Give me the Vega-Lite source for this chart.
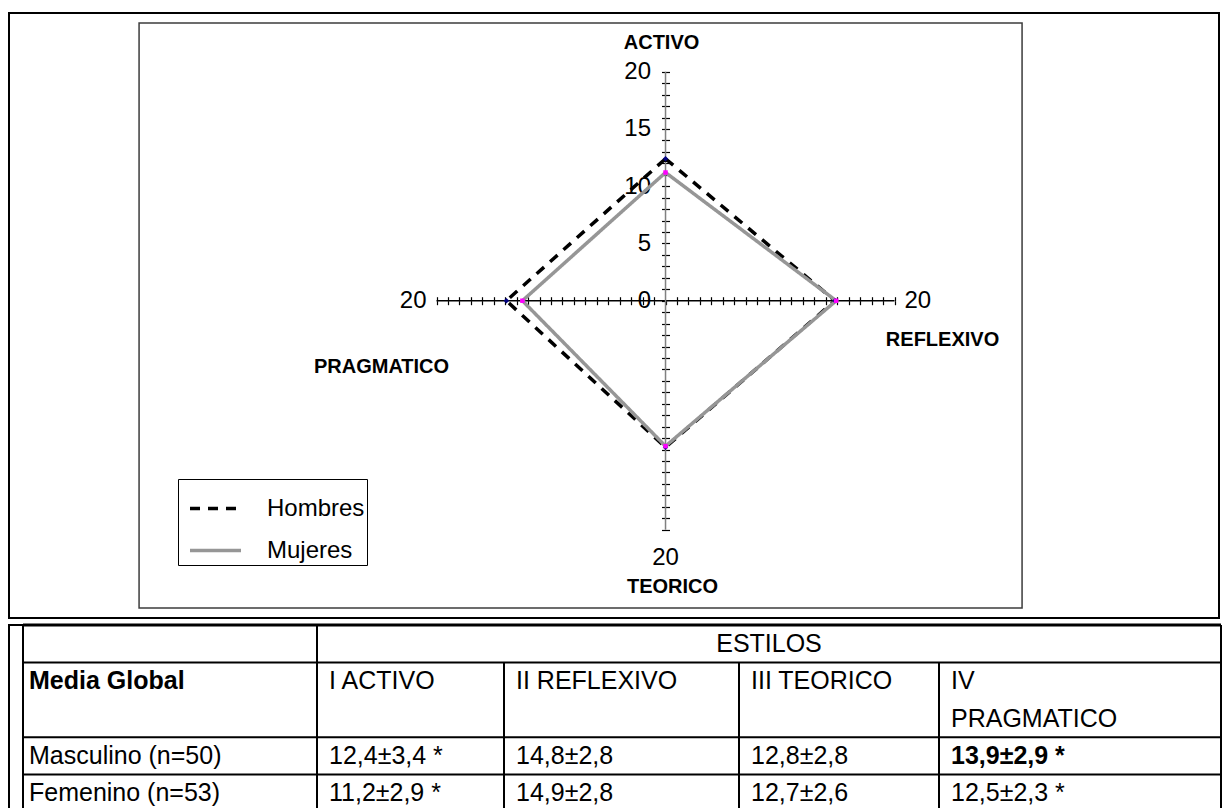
{
  "$schema": "https://vega.github.io/schema/vega-lite/v6.json",
  "padding": {"left": 8, "top": 12, "right": 0, "bottom": 0},
  "background": "white",
  "config": {"view": {"stroke": null}, "font": "Liberation Sans", "text": {"color": "black"}},
  "datasets": {
    "radar": [
      {"grupo": "Hombres", "estilo": "ACTIVO", "valor": 12.4, "x": 0, "y": 12.4, "orden": 1},
      {"grupo": "Hombres", "estilo": "REFLEXIVO", "valor": 14.8, "x": 14.8, "y": 0, "orden": 2},
      {"grupo": "Hombres", "estilo": "TEORICO", "valor": 12.8, "x": 0, "y": -12.8, "orden": 3},
      {"grupo": "Hombres", "estilo": "PRAGMATICO", "valor": 13.9, "x": -13.9, "y": 0, "orden": 4},
      {"grupo": "Hombres", "estilo": "ACTIVO", "valor": 12.4, "x": 0, "y": 12.4, "orden": 5},
      {"grupo": "Mujeres", "estilo": "ACTIVO", "valor": 11.2, "x": 0, "y": 11.2, "orden": 1},
      {"grupo": "Mujeres", "estilo": "REFLEXIVO", "valor": 14.9, "x": 14.9, "y": 0, "orden": 2},
      {"grupo": "Mujeres", "estilo": "TEORICO", "valor": 12.7, "x": 0, "y": -12.7, "orden": 3},
      {"grupo": "Mujeres", "estilo": "PRAGMATICO", "valor": 12.5, "x": -12.5, "y": 0, "orden": 4},
      {"grupo": "Mujeres", "estilo": "ACTIVO", "valor": 11.2, "x": 0, "y": 11.2, "orden": 5}
    ],
    "ejes": [
      {"estilo": "ACTIVO", "x": 0, "y": 20, "maximo": 20},
      {"estilo": "REFLEXIVO", "x": 20, "y": 0, "maximo": 20},
      {"estilo": "TEORICO", "x": 0, "y": -20, "maximo": 20},
      {"estilo": "PRAGMATICO", "x": -20, "y": 0, "maximo": 20}
    ],
    "tabla": [
      {"columna": "Media Global", "fila": "Encabezado", "texto": "Media Global"},
      {"columna": "Media Global", "fila": "Masculino (n=50)", "texto": "Masculino (n=50)"},
      {"columna": "Media Global", "fila": "Femenino (n=53)", "texto": "Femenino (n=53)"},
      {"columna": "I ACTIVO", "fila": "Encabezado", "texto": "I ACTIVO"},
      {"columna": "I ACTIVO", "fila": "Masculino (n=50)", "texto": "12,4±3,4 *"},
      {"columna": "I ACTIVO", "fila": "Femenino (n=53)", "texto": "11,2±2,9 *"},
      {"columna": "II REFLEXIVO", "fila": "Encabezado", "texto": "II REFLEXIVO"},
      {"columna": "II REFLEXIVO", "fila": "Masculino (n=50)", "texto": "14,8±2,8"},
      {"columna": "II REFLEXIVO", "fila": "Femenino (n=53)", "texto": "14,9±2,8"},
      {"columna": "III TEORICO", "fila": "Encabezado", "texto": "III TEORICO"},
      {"columna": "III TEORICO", "fila": "Masculino (n=50)", "texto": "12,8±2,8"},
      {"columna": "III TEORICO", "fila": "Femenino (n=53)", "texto": "12,7±2,6"},
      {"columna": "IV PRAGMATICO", "fila": "Encabezado", "texto": "IV"},
      {"columna": "IV PRAGMATICO", "fila": "Encabezado (2)", "texto": "PRAGMATICO"},
      {"columna": "IV PRAGMATICO", "fila": "Masculino (n=50)", "texto": "13,9±2,9 *"},
      {"columna": "IV PRAGMATICO", "fila": "Femenino (n=53)", "texto": "12,5±2,3 *"}
    ]
  },
  "spacing": 3,
  "vconcat": [
    {
      "width": 1210,
      "height": 605,
      "view": {"stroke": "black", "strokeWidth": 2},
      "resolve": {"axis": {"x": "independent", "y": "independent"}},
      "layer": [
        {
          "data": {"values": [{}]},
          "mark": {"type": "rect", "fill": null, "stroke": "#3c3c3c", "strokeWidth": 1.5},
          "encoding": {
            "x": {"datum": -45.98, "type": "quantitative", "scale": {"domain": [-57.34, 48.34], "nice": false, "zero": false}, "axis": null},
            "x2": {"datum": 31.14},
            "y": {"datum": 24.25, "type": "quantitative", "scale": {"domain": [-27.71, 25.13], "nice": false, "zero": false}, "axis": null},
            "y2": {"datum": -26.84}
          }
        },
        {
          "data": {"values": [{}]},
          "mark": {"type": "rule", "color": "black", "strokeWidth": 1.5},
          "encoding": {
            "x": {"datum": -20, "type": "quantitative", "scale": {"domain": [-57.34, 48.34], "nice": false, "zero": false},
              "axis": {"orient": "bottom", "offset": -317.3, "values": [-20,-19,-18,-17,-16,-15,-14,-13,-12,-11,-10,-9,-8,-7,-6,-5,-4,-3,-2,-1,0,1,2,3,4,5,6,7,8,9,10,11,12,13,14,15,16,17,18,19,20], "labels": false, "domain": false, "grid": false, "tickSize": 4, "tickColor": "black", "tickWidth": 1.2, "title": null}},
            "x2": {"datum": 20},
            "y": {"datum": 0, "type": "quantitative", "scale": {"domain": [-27.71, 25.13], "nice": false, "zero": false},
              "axis": {"orient": "left", "offset": -656.5, "values": [-20,-19,-18,-17,-16,-15,-14,-13,-12,-11,-10,-9,-8,-7,-6,-5,-4,-3,-2,-1,0,1,2,3,4,5,6,7,8,9,10,11,12,13,14,15,16,17,18,19,20], "labelExpr": "datum.value >= 0 && datum.value % 5 == 0 ? datum.label : ''", "labelOverlap": false, "labelFlush": false, "labelBound": false, "labelFontSize": 24, "labelFont": "Liberation Sans", "labelColor": "black", "labelPadding": 11, "domain": false, "grid": false, "tickSize": 4, "tickColor": "black", "tickWidth": 1.2, "title": null}}
          }
        },
        {
          "data": {"values": [{}]},
          "mark": {"type": "rule", "color": "#808080", "strokeWidth": 1.5},
          "encoding": {
            "x": {"datum": 0, "type": "quantitative", "scale": {"domain": [-57.34, 48.34], "nice": false, "zero": false},
              "axis": {"orient": "top", "offset": -287.7, "values": [-20,-19,-18,-17,-16,-15,-14,-13,-12,-11,-10,-9,-8,-7,-6,-5,-4,-3,-2,-1,1,2,3,4,5,6,7,8,9,10,11,12,13,14,15,16,17,18,19,20], "labels": false, "domain": false, "grid": false, "tickSize": 4, "tickColor": "black", "tickWidth": 1.2, "title": null}},
            "y": {"datum": -20, "type": "quantitative", "scale": {"domain": [-27.71, 25.13], "nice": false, "zero": false},
              "axis": {"orient": "right", "offset": -553.5, "values": [-20,-19,-18,-17,-16,-15,-14,-13,-12,-11,-10,-9,-8,-7,-6,-5,-4,-3,-2,-1,1,2,3,4,5,6,7,8,9,10,11,12,13,14,15,16,17,18,19,20], "labels": false, "domain": false, "grid": false, "tickSize": 4, "tickColor": "black", "tickWidth": 1.2, "title": null}},
            "y2": {"datum": 20}
          }
        },
        {
          "data": {"name": "radar"},
          "mark": {"type": "line", "strokeWidth": 3.5, "strokeCap": "butt", "strokeJoin": "miter"},
          "encoding": {
            "x": {"field": "x", "type": "quantitative", "scale": {"domain": [-57.34, 48.34], "nice": false, "zero": false}, "axis": null},
            "y": {"field": "y", "type": "quantitative", "scale": {"domain": [-27.71, 25.13], "nice": false, "zero": false}, "axis": null},
            "order": {"field": "orden", "type": "quantitative"},
            "color": {"field": "grupo", "type": "nominal", "scale": {"domain": ["Hombres", "Mujeres"], "range": ["black", "#969696"]},
              "legend": {"title": null, "orient": "none", "legendX": 169, "legendY": 466, "fillColor": "white", "strokeColor": "black", "padding": 2, "labelFontSize": 24, "labelFont": "Liberation Sans", "labelColor": "black", "symbolType": "stroke", "symbolSize": 2600, "symbolStrokeWidth": 3.5, "symbolOffset": 8, "rowPadding": 2, "labelOffset": 24, "cornerRadius": 0}},
            "strokeDash": {"field": "grupo", "type": "nominal", "scale": {"domain": ["Hombres", "Mujeres"], "range": [[10, 8], [1, 0]]},
              "legend": {"title": null, "orient": "none", "legendX": 169, "legendY": 466, "fillColor": "white", "strokeColor": "black", "padding": 2, "labelFontSize": 24, "labelFont": "Liberation Sans", "labelColor": "black", "symbolType": "stroke", "symbolSize": 2600, "symbolStrokeWidth": 3.5, "symbolOffset": 8, "rowPadding": 2, "labelOffset": 24, "cornerRadius": 0}}
          }
        },
        {
          "data": {"name": "radar"},
          "transform": [{"filter": "datum.grupo == 'Hombres' && datum.orden < 5"}],
          "mark": {"type": "point", "shape": "diamond", "filled": true, "color": "#000080", "size": 30, "opacity": 1},
          "encoding": {
            "x": {"field": "x", "type": "quantitative", "scale": {"domain": [-57.34, 48.34], "nice": false, "zero": false}, "axis": null},
            "y": {"field": "y", "type": "quantitative", "scale": {"domain": [-27.71, 25.13], "nice": false, "zero": false}, "axis": null}
          }
        },
        {
          "data": {"name": "radar"},
          "transform": [{"filter": "datum.grupo == 'Mujeres' && datum.orden < 5"}],
          "mark": {"type": "point", "shape": "square", "filled": true, "color": "#FF00FF", "size": 20, "opacity": 1},
          "encoding": {
            "x": {"field": "x", "type": "quantitative", "scale": {"domain": [-57.34, 48.34], "nice": false, "zero": false}, "axis": null},
            "y": {"field": "y", "type": "quantitative", "scale": {"domain": [-27.71, 25.13], "nice": false, "zero": false}, "axis": null}
          }
        },
        {
          "data": {"name": "ejes"},
          "mark": {"type": "text", "fontSize": 20, "fontWeight": "bold", "align": "center", "baseline": "middle",
            "dx": {"expr": "datum.estilo == 'ACTIVO' ? -4 : datum.estilo == 'REFLEXIVO' ? 48 : datum.estilo == 'TEORICO' ? 7 : -55"},
            "dy": {"expr": "datum.estilo == 'ACTIVO' ? -29 : datum.estilo == 'REFLEXIVO' ? 39 : datum.estilo == 'TEORICO' ? 57 : 66"}},
          "encoding": {
            "x": {"field": "x", "type": "quantitative", "scale": {"domain": [-57.34, 48.34], "nice": false, "zero": false}, "axis": null},
            "y": {"field": "y", "type": "quantitative", "scale": {"domain": [-27.71, 25.13], "nice": false, "zero": false}, "axis": null},
            "text": {"field": "estilo"}
          }
        },
        {
          "data": {"name": "ejes"},
          "transform": [{"filter": "datum.estilo != 'ACTIVO'"}],
          "mark": {"type": "text", "fontSize": 24, "baseline": "middle",
            "align": {"expr": "datum.estilo == 'REFLEXIVO' ? 'left' : datum.estilo == 'PRAGMATICO' ? 'right' : 'center'"},
            "dx": {"expr": "datum.estilo == 'REFLEXIVO' ? 10 : datum.estilo == 'PRAGMATICO' ? -10 : 0"},
            "dy": {"expr": "datum.estilo == 'TEORICO' ? 28 : 0"}},
          "encoding": {
            "x": {"field": "x", "type": "quantitative", "scale": {"domain": [-57.34, 48.34], "nice": false, "zero": false}, "axis": null},
            "y": {"field": "y", "type": "quantitative", "scale": {"domain": [-27.71, 25.13], "nice": false, "zero": false}, "axis": null},
            "text": {"field": "maximo"}
          }
        }
      ]
    },
    {
      "spacing": 0,
      "bounds": "flush",
      "hconcat": [
        {
          "width": 14, "height": 187,
          "view": {"stroke": "black", "strokeWidth": 2},
          "data": {"values": [{}]},
          "mark": {"type": "text", "text": ""},
          "encoding": {}
        },
        {
          "width": 294, "height": 187,
          "view": {"stroke": "black", "strokeWidth": 2},
          "data": {"name": "tabla"},
          "transform": [{"filter": "datum.columna == 'Media Global'"}],
          "layer": [
            {
              "mark": {"type": "text", "align": "left", "dx": 6, "fontSize": 25, "fontWeight": {"expr": "datum.fila == 'Encabezado' ? 'bold' : 'normal'"}},
              "encoding": {
                "x": {"datum": 0, "type": "quantitative", "axis": null, "scale": {"domain": [0, 1]}},
                "y": {"field": "fila", "type": "nominal", "axis": null, "scale": {"domain": ["Estilos", "Encabezado", "Encabezado (2)", "Masculino (n=50)", "Femenino (n=53)"], "paddingInner": 0, "paddingOuter": 0}},
                "text": {"field": "texto"}
              }
            },
            {
              "mark": {"type": "rule", "color": "black", "strokeWidth": 2},
              "encoding": {"y": {"field": "fila", "type": "nominal", "axis": null, "bandPosition": 0}}
            },
            {
              "data": {"values": [{}]},
              "mark": {"type": "rule", "color": "black", "strokeWidth": 3},
              "encoding": {"y": {"datum": "Estilos", "type": "nominal", "axis": null, "bandPosition": 0}}
            }
          ]
        },
        {
          "width": 187, "height": 187,
          "data": {"name": "tabla"},
          "transform": [{"filter": "datum.columna == 'I ACTIVO'"}],
          "layer": [
            {
              "mark": {"type": "text", "align": "left", "dx": 12, "fontSize": 25},
              "encoding": {
                "x": {"datum": 0, "type": "quantitative", "axis": null, "scale": {"domain": [0, 1]}},
                "y": {"field": "fila", "type": "nominal", "axis": null, "scale": {"domain": ["Estilos", "Encabezado", "Encabezado (2)", "Masculino (n=50)", "Femenino (n=53)"], "paddingInner": 0, "paddingOuter": 0}},
                "text": {"field": "texto"}
              }
            },
            {
              "mark": {"type": "rule", "color": "black", "strokeWidth": 2},
              "encoding": {"y": {"field": "fila", "type": "nominal", "axis": null, "bandPosition": 0}}
            },
            {
              "data": {"values": [{}]},
              "mark": {"type": "rule", "color": "black", "strokeWidth": 3},
              "encoding": {"y": {"datum": "Estilos", "type": "nominal", "axis": null, "bandPosition": 0}}
            },
            {
              "data": {"values": [{}]},
              "mark": {"type": "rule", "color": "black", "strokeWidth": 2},
              "encoding": {"x": {"datum": 0, "type": "quantitative", "axis": null}}
            }
          ]
        },
        {
          "width": 235, "height": 187,
          "data": {"name": "tabla"},
          "transform": [{"filter": "datum.columna == 'II REFLEXIVO'"}],
          "layer": [
            {
              "mark": {"type": "text", "align": "left", "dx": 12, "fontSize": 25},
              "encoding": {
                "x": {"datum": 0, "type": "quantitative", "axis": null, "scale": {"domain": [0, 1]}},
                "y": {"field": "fila", "type": "nominal", "axis": null, "scale": {"domain": ["Estilos", "Encabezado", "Encabezado (2)", "Masculino (n=50)", "Femenino (n=53)"], "paddingInner": 0, "paddingOuter": 0}},
                "text": {"field": "texto"}
              }
            },
            {
              "mark": {"type": "rule", "color": "black", "strokeWidth": 2},
              "encoding": {"y": {"field": "fila", "type": "nominal", "axis": null, "bandPosition": 0}}
            },
            {
              "data": {"values": [{}]},
              "mark": {"type": "rule", "color": "black", "strokeWidth": 3},
              "encoding": {"y": {"datum": "Estilos", "type": "nominal", "axis": null, "bandPosition": 0}}
            },
            {
              "data": {"values": [{}]},
              "mark": {"type": "rule", "color": "black", "strokeWidth": 2},
              "encoding": {
                "x": {"datum": 0, "type": "quantitative", "axis": null},
                "y": {"datum": "Encabezado", "type": "nominal", "axis": null, "bandPosition": 0},
                "y2": {"datum": "Femenino (n=53)", "bandPosition": 1}
              }
            }
          ]
        },
        {
          "width": 200, "height": 187,
          "data": {"name": "tabla"},
          "transform": [{"filter": "datum.columna == 'III TEORICO'"}],
          "layer": [
            {
              "mark": {"type": "text", "align": "left", "dx": 12, "fontSize": 25},
              "encoding": {
                "x": {"datum": 0, "type": "quantitative", "axis": null, "scale": {"domain": [0, 1]}},
                "y": {"field": "fila", "type": "nominal", "axis": null, "scale": {"domain": ["Estilos", "Encabezado", "Encabezado (2)", "Masculino (n=50)", "Femenino (n=53)"], "paddingInner": 0, "paddingOuter": 0}},
                "text": {"field": "texto"}
              }
            },
            {
              "mark": {"type": "rule", "color": "black", "strokeWidth": 2},
              "encoding": {"y": {"field": "fila", "type": "nominal", "axis": null, "bandPosition": 0}}
            },
            {
              "data": {"values": [{}]},
              "mark": {"type": "rule", "color": "black", "strokeWidth": 3},
              "encoding": {"y": {"datum": "Estilos", "type": "nominal", "axis": null, "bandPosition": 0}}
            },
            {
              "data": {"values": [{}]},
              "mark": {"type": "rule", "color": "black", "strokeWidth": 2},
              "encoding": {
                "x": {"datum": 0, "type": "quantitative", "axis": null},
                "y": {"datum": "Encabezado", "type": "nominal", "axis": null, "bandPosition": 0},
                "y2": {"datum": "Femenino (n=53)", "bandPosition": 1}
              }
            },
            {
              "data": {"values": [{"titulo": "ESTILOS"}]},
              "mark": {"type": "text", "align": "center", "dx": 30, "fontSize": 25},
              "encoding": {
                "x": {"datum": 0, "type": "quantitative", "axis": null},
                "y": {"datum": "Estilos", "type": "nominal", "axis": null},
                "text": {"field": "titulo"}
              }
            }
          ]
        },
        {
          "width": 282, "height": 187,
          "data": {"name": "tabla"},
          "transform": [{"filter": "datum.columna == 'IV PRAGMATICO'"}],
          "layer": [
            {
              "mark": {"type": "text", "align": "left", "dx": 12, "fontSize": 25, "fontWeight": {"expr": "datum.fila == 'Masculino (n=50)' ? 'bold' : 'normal'"}},
              "encoding": {
                "x": {"datum": 0, "type": "quantitative", "axis": null, "scale": {"domain": [0, 1]}},
                "y": {"field": "fila", "type": "nominal", "axis": null, "scale": {"domain": ["Estilos", "Encabezado", "Encabezado (2)", "Masculino (n=50)", "Femenino (n=53)"], "paddingInner": 0, "paddingOuter": 0}},
                "text": {"field": "texto"}
              }
            },
            {
              "transform": [{"filter": "datum.fila != 'Encabezado (2)'"}],
              "mark": {"type": "rule", "color": "black", "strokeWidth": 2},
              "encoding": {"y": {"field": "fila", "type": "nominal", "axis": null, "bandPosition": 0}}
            },
            {
              "data": {"values": [{}]},
              "mark": {"type": "rule", "color": "black", "strokeWidth": 3},
              "encoding": {"y": {"datum": "Estilos", "type": "nominal", "axis": null, "bandPosition": 0}}
            },
            {
              "data": {"values": [{}]},
              "mark": {"type": "rule", "color": "black", "strokeWidth": 2},
              "encoding": {
                "x": {"datum": 0, "type": "quantitative", "axis": null},
                "y": {"datum": "Encabezado", "type": "nominal", "axis": null, "bandPosition": 0},
                "y2": {"datum": "Femenino (n=53)", "bandPosition": 1}
              }
            },
            {
              "data": {"values": [{}]},
              "mark": {"type": "rule", "color": "black", "strokeWidth": 2},
              "encoding": {"x": {"datum": 1, "type": "quantitative", "axis": null}}
            }
          ]
        }
      ]
    }
  ]
}
